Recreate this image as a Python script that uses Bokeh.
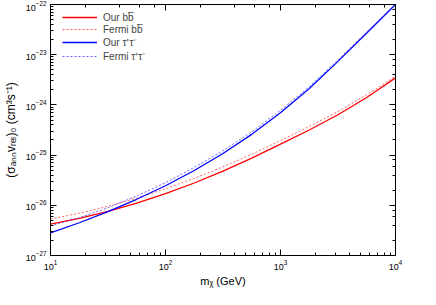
from bokeh.plotting import figure
from bokeh.models import LogAxis, CustomJSTickFormatter, Legend, LegendItem
from bokeh.embed import file_html
from bokeh.resources import INLINE

# Data (every 0.25 decade in mass)
mass = [10, 17.8, 31.6, 56.2, 100, 178, 316, 562, 1000, 1780, 3160, 5620, 10000]
our_bb = [4.23e-27, 5.51e-27, 7.60e-27, 1.107e-26, 1.70e-26, 2.78e-26, 4.80e-26,
          8.69e-26, 1.65e-25, 3.16e-25, 6.35e-25, 1.40e-24, 3.45e-24]
fermi_bb = [5.32e-27, 6.93e-27, 9.57e-27, 1.393e-26, 2.13e-26, 3.44e-26, 5.83e-26,
            1.038e-25, 1.95e-25, 3.72e-25, 7.40e-25, 1.59e-24, 3.70e-24]
our_tt = [2.82e-27, 4.49e-27, 7.50e-27, 1.318e-26, 2.455e-26, 4.94e-26, 1.074e-25,
          2.59e-25, 6.95e-25, 2.12e-24, 7.36e-24, 2.70e-23, 1.0e-22]
fermi_tt = [3.89e-27, 5.65e-27, 8.91e-27, 1.531e-26, 2.82e-26, 5.68e-26, 1.219e-25,
            2.90e-25, 7.80e-25, 2.32e-24, 7.89e-24, 2.83e-23, 1.02e-22]

x_range = (10, 1e4)
y_range = (1e-27, 1e-22)

FONT = "Liberation Sans"

p = figure(width=420, height=289, x_axis_type="log", y_axis_type="log",
           x_range=x_range, y_range=y_range, output_backend="svg",
           toolbar_location=None, min_border_left=50, min_border_right=25,
           min_border_top=4, min_border_bottom=29)
p.xgrid.visible = False
p.ygrid.visible = False
p.outline_line_color = "black"
p.outline_line_width = 1
p.background_fill_color = "white"
p.border_fill_color = "white"

r1 = p.line(mass, our_bb, line_color="#ff0000", line_width=1.3)
r2 = p.line(mass, fermi_bb, line_color="#ff3030", line_width=1, line_dash="2 2", line_alpha=0.75)
r3 = p.line(mass, our_tt, line_color="#0000ff", line_width=1.3)
r4 = p.line(mass, fermi_tt, line_color="#3030ff", line_width=1, line_dash="2 2", line_alpha=0.75)

def style_axis(ax):
    ax.major_tick_in = 6
    ax.major_tick_out = 0
    ax.minor_tick_in = 3
    ax.minor_tick_out = 0
    ax.axis_line_color = "black"
    ax.major_tick_line_color = "black"
    ax.minor_tick_line_color = "black"
    ax.major_label_text_font = FONT
    ax.major_label_text_font_size = "9px"
    ax.major_label_text_color = "black"
    ax.axis_label_text_font = FONT
    ax.axis_label_text_font_size = "11px"
    ax.axis_label_text_font_style = "normal"
    ax.axis_label_text_color = "black"

style_axis(p.xaxis[0])
style_axis(p.yaxis[0])
p.xaxis[0].axis_label = "mᵪ (GeV)"
p.yaxis[0].axis_label = "(σₐₙₙvᵣₑₗ)₀ (cm³s⁻¹)"
p.yaxis[0].axis_label_text_font_size = "12px"
p.xaxis[0].major_label_standoff = 4
p.yaxis[0].major_label_standoff = 4
p.xaxis[0].axis_label_standoff = 2
p.yaxis[0].axis_label_standoff = 5

blank = CustomJSTickFormatter(code="return ''")
right = LogAxis(formatter=blank)
top = LogAxis(formatter=blank)
style_axis(right)
style_axis(top)
right.major_label_text_font_size = "0px"
top.major_label_text_font_size = "0px"
right.major_label_standoff = 0
top.major_label_standoff = 0
p.add_layout(right, "right")
p.add_layout(top, "above")

legend = Legend(items=[
    LegendItem(label="Our bb\u0305", renderers=[r1]),
    LegendItem(label="Fermi bb\u0305", renderers=[r2]),
    LegendItem(label="Our τ⁺τ⁻", renderers=[r3]),
    LegendItem(label="Fermi τ⁺τ⁻", renderers=[r4]),
], location=(12, 192))
legend.border_line_color = None
legend.background_fill_alpha = 0
legend.label_text_font = FONT
legend.label_text_font_size = "10px"
legend.glyph_width = 35
legend.glyph_height = 12
legend.label_height = 12
legend.spacing = 0
legend.padding = 2
legend.margin = 0
legend.label_standoff = 6
p.add_layout(legend)

open("out.html", "w").write(file_html(p, INLINE))
